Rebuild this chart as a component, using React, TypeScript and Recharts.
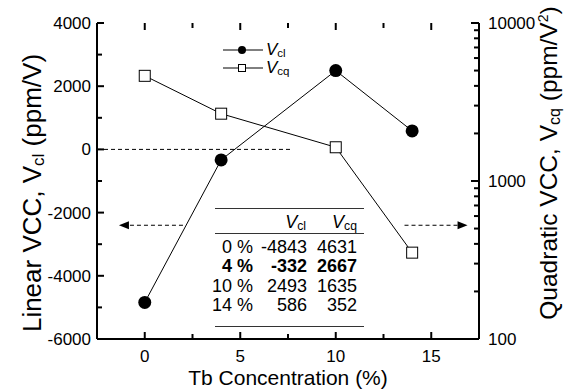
import React from 'react';
import { ComposedChart, Line, XAxis, YAxis, ReferenceLine } from 'recharts';

const tbConc = [0, 4, 10, 14];
const vclValues = [-4843, -332, 2493, 586];
const vcqValues = [4631, 2667, 1635, 352];

const xTicks = [0, 2.5, 5, 7.5, 10, 12.5, 15];
const xLabels = [0, 5, 10, 15];
const leftTicks = [-6000, -5000, -4000, -3000, -2000, -1000, 0, 1000, 2000, 3000, 4000];
const leftLabels = [-6000, -4000, -2000, 0, 2000, 4000];
const rightTicks = [100, 200, 300, 400, 500, 600, 700, 800, 900, 1000, 2000, 3000, 4000, 5000, 6000, 7000, 8000, 9000, 10000];
const rightLabels = [100, 1000, 10000];

const rowLabels = ['0 %', '4 %', '10 %', '14 %'];
const boldRow = 1;

const data = tbConc.map((x, i) => ({ x, vcl: vclValues[i], vcq: vcqValues[i] }));

const FONT = '"Liberation Sans", Arial, Helvetica, sans-serif';

// axis tick labels; the inward tick marks are drawn with reference lines
const BottomLabel = (props: any) => {
  const v = Number(props.payload.value);
  if (!xLabels.includes(v)) return <g />;
  return (
    <text x={Number(props.x)} y={Number(props.y) + 23} textAnchor="middle" fontSize={17} fontFamily={FONT} fill="#000">
      {v}
    </text>
  );
};

const LeftLabel = (props: any) => {
  const v = Number(props.payload.value);
  if (!leftLabels.includes(v)) return <g />;
  return (
    <text x={Number(props.x) - 6} y={Number(props.y) + 6} textAnchor="end" fontSize={17} fontFamily={FONT} fill="#000">
      {v}
    </text>
  );
};

const RightLabel = (props: any) => {
  const v = Number(props.payload.value);
  if (!rightLabels.includes(v)) return <g />;
  return (
    <text x={Number(props.x) + 9} y={Number(props.y) + 6} textAnchor="start" fontSize={17} fontFamily={FONT} fill="#000">
      {v}
    </text>
  );
};

const xTickShape = (len: number) => (props: any) => {
  const x = Number(props.x1);
  const yTop = Math.min(Number(props.y1), Number(props.y2));
  const yBot = Math.max(Number(props.y1), Number(props.y2));
  return (
    <g>
      <line x1={x} x2={x} y1={yTop} y2={yTop + len} stroke="#000" strokeWidth={2} />
      <line x1={x} x2={x} y1={yBot} y2={yBot - len} stroke="#000" strokeWidth={2} />
    </g>
  );
};

const leftTickShape = (len: number) => (props: any) => {
  const x = Math.min(Number(props.x1), Number(props.x2));
  const y = Number(props.y1);
  return <line x1={x} x2={x + len} y1={y} y2={y} stroke="#000" strokeWidth={2} />;
};

const rightTickShape = (len: number) => (props: any) => {
  const x = Math.max(Number(props.x1), Number(props.x2));
  const y = Number(props.y1);
  return <line x1={x} x2={x - len} y1={y} y2={y} stroke="#000" strokeWidth={2} />;
};

const CircleDot = (props: any) => {
  const { cx, cy } = props;
  return <circle key={`c-${cx}`} cx={cx} cy={cy} r={6.5} fill="#000" />;
};

const SquareDot = (props: any) => {
  const { cx, cy } = props;
  return <rect key={`s-${cx}`} x={cx - 5.5} y={cy - 5.5} width={11} height={11} fill="#fff" stroke="#000" strokeWidth={1} />;
};

const Arrow = (props: any) => {
  const x1 = Number(props.x1);
  const y1 = Number(props.y1);
  const x2 = Number(props.x2);
  const y2 = Number(props.y2);
  const dir = x2 > x1 ? 1 : -1;
  return (
    <g>
      <line x1={x1} y1={y1} x2={x2 - dir * 8} y2={y2} stroke="#000" strokeWidth={1.2} strokeDasharray="4 3" />
      <polygon points={`${x2},${y2} ${x2 - dir * 10},${y2 - 4} ${x2 - dir * 10},${y2 + 4}`} fill="#000" />
    </g>
  );
};

const LeftTitle = (props: any) => {
  const { viewBox } = props;
  const cx = viewBox.x + 34;
  const cy = viewBox.y + viewBox.height / 2 + 12;
  return (
    <text x={cx} y={cy} transform={`rotate(-90, ${cx}, ${cy})`} textAnchor="middle" fontSize={26} fontFamily={FONT} fill="#000">
      Linear VCC, V<tspan fontSize={17} dy={3}>cl</tspan>
      <tspan dy={-3}> (ppm/V)</tspan>
    </text>
  );
};

const RightTitle = (props: any) => {
  const { viewBox } = props;
  const cx = viewBox.x + 78;
  const cy = viewBox.y + viewBox.height / 2 - 18;
  return (
    <text x={cx} y={cy} transform={`rotate(-90, ${cx}, ${cy})`} textAnchor="middle" fontSize={24.5} fontFamily={FONT} fill="#000">
      Quadratic VCC, V<tspan fontSize={16} dy={3}>cq</tspan>
      <tspan dy={-3}> (ppm/V</tspan>
      <tspan fontSize={14} dy={-9}>2</tspan>
      <tspan dy={9}>)</tspan>
    </text>
  );
};

const BottomTitle = (props: any) => {
  const { viewBox } = props;
  return (
    <text x={viewBox.x + viewBox.width / 2} y={viewBox.y + 46} textAnchor="middle" fontSize={21} fontFamily={FONT} fill="#000">
      Tb Concentration (%)
    </text>
  );
};

const SubV = ({ sub, size = 18 }: { sub: string; size?: number }) => (
  <span style={{ whiteSpace: 'nowrap' }}>
    <i>V</i>
    <span style={{ fontSize: size * 0.68, position: 'relative', top: 2 }}>{sub}</span>
  </span>
);

const legendItems = [
  { name: 'cl', filled: true },
  { name: 'cq', filled: false },
];

const cell = (right: number, width: number): React.CSSProperties => ({
  position: 'absolute',
  left: right - width,
  width,
  textAlign: 'right',
  whiteSpace: 'nowrap',
});

const App: React.FC = () => {
  return (
    <div style={{ position: 'absolute', left: 0, top: 0, width: 565, height: 389, background: '#fff', fontFamily: FONT }}>
      <ComposedChart width={565} height={389} data={data} margin={{ top: 23, right: 6, bottom: 0, left: 7 }}>
        <XAxis
          xAxisId="b"
          dataKey="x"
          type="number"
          domain={[-2.5, 17.5]}
          ticks={xTicks}
          interval={0}
          height={50}
          tickSize={0}
          tickMargin={0}
          tickLine={false}
          tick={BottomLabel}
          axisLine={{ stroke: '#000', strokeWidth: 2 }}
          label={{ content: BottomTitle }}
        />
        <XAxis
          xAxisId="t"
          orientation="top"
          type="number"
          domain={[-2.5, 17.5]}
          height={0}
          tick={false}
          tickLine={false}
          axisLine={{ stroke: '#000', strokeWidth: 2 }}
        />
        <YAxis
          yAxisId="left"
          type="number"
          domain={[-6000, 4000]}
          ticks={leftTicks}
          interval={0}
          width={90}
          tickSize={0}
          tickMargin={0}
          tickLine={false}
          tick={LeftLabel}
          axisLine={{ stroke: '#000', strokeWidth: 2 }}
          label={{ content: LeftTitle }}
        />
        <YAxis
          yAxisId="right"
          orientation="right"
          type="number"
          scale="log"
          domain={[100, 10000]}
          allowDataOverflow
          ticks={rightTicks}
          interval={0}
          width={80}
          tickSize={0}
          tickMargin={0}
          tickLine={false}
          tick={RightLabel}
          axisLine={{ stroke: '#000', strokeWidth: 2 }}
          label={{ content: RightTitle }}
        />
        {xTicks.map((t) => (
          <ReferenceLine key={`xt-${t}`} xAxisId="b" yAxisId="left" x={t} shape={xTickShape(xLabels.includes(t) ? 7 : 5)} />
        ))}
        {leftTicks.map((t) => (
          <ReferenceLine key={`lt-${t}`} xAxisId="b" yAxisId="left" y={t} shape={leftTickShape(leftLabels.includes(t) ? 7 : 5)} />
        ))}
        {rightTicks.map((t) => (
          <ReferenceLine key={`rt-${t}`} xAxisId="b" yAxisId="right" y={t} shape={rightTickShape(rightLabels.includes(t) ? 8 : 5)} />
        ))}
        <ReferenceLine
          xAxisId="b"
          yAxisId="left"
          segment={[{ x: -2.5, y: 0 }, { x: 7.7, y: 0 }]}
          stroke="#000"
          strokeWidth={1}
          strokeDasharray="4 3"
        />
        <ReferenceLine xAxisId="b" yAxisId="left" segment={[{ x: 2.0, y: -2400 }, { x: -1.35, y: -2400 }]} shape={Arrow} />
        <ReferenceLine xAxisId="b" yAxisId="left" segment={[{ x: 13.6, y: -2400 }, { x: 16.9, y: -2400 }]} shape={Arrow} />
        <Line xAxisId="b" yAxisId="left" dataKey="vcl" stroke="#000" strokeWidth={1} dot={CircleDot} isAnimationActive={false} />
        <Line xAxisId="b" yAxisId="right" dataKey="vcq" stroke="#000" strokeWidth={1} dot={SquareDot} isAnimationActive={false} />
      </ComposedChart>

      {/* legend */}
      {legendItems.map((item, i) => (
        <div key={item.name} style={{ position: 'absolute', left: 223, top: 41 + i * 18, height: 18, display: 'flex', alignItems: 'center' }}>
          <svg width={40} height={18}>
            <line x1={0} x2={40} y1={9} y2={9} stroke="#000" strokeWidth={1} />
            {item.filled ? (
              <circle cx={19} cy={9} r={4} fill="#000" />
            ) : (
              <rect x={15.5} y={5.5} width={7} height={7} fill="#fff" stroke="#000" />
            )}
          </svg>
          <span style={{ marginLeft: 3, fontSize: 17, lineHeight: '18px' }}>
            <SubV sub={item.name} size={17} />
          </span>
        </div>
      ))}

      {/* table */}
      <div style={{ position: 'absolute', left: 215, top: 208, width: 149, borderTop: '1px solid #333' }} />
      <div style={{ position: 'absolute', left: 215, top: 233, width: 149, borderTop: '1px solid #333' }} />
      <div style={{ position: 'absolute', left: 215, top: 326, width: 149, borderTop: '1px solid #333' }} />
      <div style={{ position: 'absolute', left: 0, top: 211, width: 565, height: 22, fontSize: 18, lineHeight: '22px' }}>
        <span style={cell(306, 50)}><SubV sub="cl" /></span>
        <span style={cell(357, 50)}><SubV sub="cq" /></span>
      </div>
      {rowLabels.map((label, i) => (
        <div
          key={label}
          style={{
            position: 'absolute',
            left: 0,
            top: 237 + i * 19.3,
            width: 565,
            height: 20,
            fontSize: 18,
            lineHeight: '20px',
            fontWeight: i === boldRow ? 'bold' : 'normal',
          }}
        >
          <span style={cell(253, 50)}>{label}</span>
          <span style={cell(307, 60)}>{vclValues[i]}</span>
          <span style={cell(357, 50)}>{vcqValues[i]}</span>
        </div>
      ))}
    </div>
  );
};

export default App;
